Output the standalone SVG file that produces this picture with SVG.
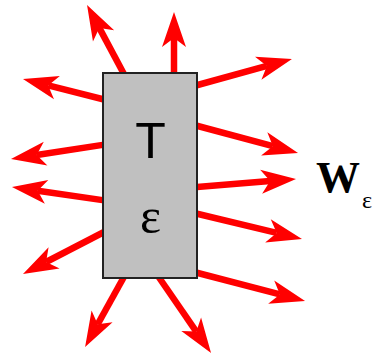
<svg xmlns="http://www.w3.org/2000/svg" width="374" height="358" viewBox="0 0 374 358">
<style>
.ray{stroke:#ff0000;stroke-width:6.5;fill:none;marker-end:url(#ah)}
.lbl{fill:#000}
</style>
<defs>
<marker id="ah" markerUnits="userSpaceOnUse" orient="auto" refX="0" refY="0" markerWidth="40" markerHeight="30" overflow="visible">
<path d="M26,0 L-9,-12 L0,0 L-9,12 Z" fill="#ff0000"/>
</marker>
</defs>
<rect width="374" height="358" fill="#fff"/>
<g id="connectors">
<line class="ray" x1="125" y1="76" x2="99.3" y2="27.9"/>
<line class="ray" x1="174" y1="76" x2="174" y2="38"/>
<line class="ray" x1="194" y1="86" x2="266.9" y2="65.9"/>
<line class="ray" x1="106" y1="100" x2="48.2" y2="85.4"/>
<line class="ray" x1="194" y1="125" x2="272.9" y2="146.2"/>
<line class="ray" x1="106" y1="144.4" x2="36.7" y2="155.0"/>
<line class="ray" x1="194" y1="187.3" x2="270.1" y2="181.1"/>
<line class="ray" x1="106" y1="200.6" x2="37.7" y2="190.7"/>
<line class="ray" x1="194" y1="213" x2="276.7" y2="232.9"/>
<line class="ray" x1="106" y1="231" x2="46.1" y2="262"/>
<line class="ray" x1="194" y1="272" x2="279.9" y2="294.4"/>
<line class="ray" x1="125" y1="275" x2="97.7" y2="324.3"/>
<line class="ray" x1="158" y1="276" x2="196.3" y2="331.6"/>
</g>
<g id="body">
<rect x="103" y="73" width="94" height="205" fill="#c0c0c0" stroke="#222" stroke-width="2"/>
<text class="lbl" x="150.5" y="158" text-anchor="middle" font-family="Liberation Sans, sans-serif" font-size="50">T</text>
<text class="lbl" x="150.5" y="233" text-anchor="middle" font-family="Liberation Serif, serif" font-size="50">ε</text>
</g>
<g id="label">
<text class="lbl" x="316" y="192" font-family="Liberation Serif, serif" font-size="44" font-weight="bold">W</text>
<text class="lbl" x="362" y="208" font-family="Liberation Serif, serif" font-size="24">ε</text>
</g>
</svg>
